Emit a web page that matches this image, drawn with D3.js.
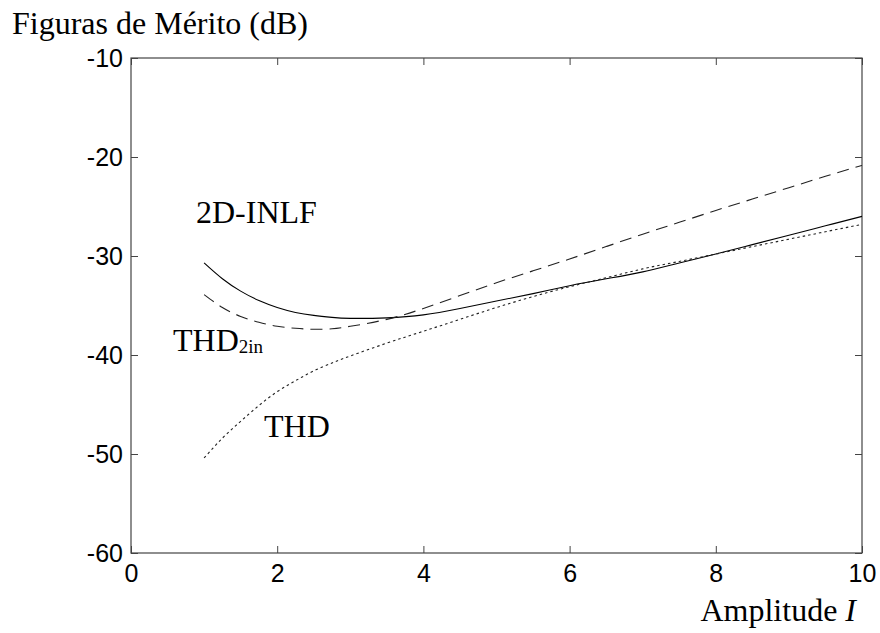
<!DOCTYPE html>
<html><head><meta charset="utf-8">
<script src="https://cdn.jsdelivr.net/npm/d3@7"></script>
<style>
html,body{margin:0;padding:0;background:#fff;}
svg{display:block;}
</style></head>
<body>
<svg id="chart" width="880" height="633"></svg>
<script>
// ---- data ----
const xTicks = [0, 2, 4, 6, 8, 10];
const yTicks = [-60, -50, -40, -30, -20, -10];
const amp = [1, 1.25, 1.5, 1.75, 2, 2.25, 2.5, 2.75, 3, 3.5, 4, 4.5, 5, 5.5, 6, 6.5, 7, 7.5, 8, 8.5, 9, 9.5, 10];
const inlf = [-30.7, -32.3, -33.55, -34.5, -35.2, -35.7, -36.0, -36.2, -36.3, -36.25, -35.95, -35.3, -34.55, -33.8, -33.0, -32.3, -31.6, -30.7, -29.8, -28.85, -27.9, -26.95, -26.0];
const thd2in = [-33.9, -35.2, -36.1, -36.7, -37.1, -37.3, -37.4, -37.35, -37.1, -36.4, -35.3, -34.0, -32.7, -31.5, -30.3, -29.05, -27.8, -26.6, -25.4, -24.25, -23.1, -21.95, -20.85];
const thd = [-50.4, -48.4, -46.7, -45.1, -43.7, -42.6, -41.6, -40.8, -40.1, -38.8, -37.6, -36.4, -35.2, -34.1, -33.1, -32.2, -31.3, -30.55, -29.8, -29.05, -28.3, -27.55, -26.8];

const m = {left: 131, right: 862, top: 58, bottom: 553};
const svg = d3.select("#chart");

const x = d3.scaleLinear().domain([0, 10]).range([m.left, m.right]);
const y = d3.scaleLinear().domain([-60, -10]).range([m.bottom, m.top]);

const axisColor = "#444";
const tickFont = "'Liberation Sans', Arial, sans-serif";
const serif = "'Liberation Serif', 'Times New Roman', serif";
const fmt = d => String(d);

function styleAxis(g, showText) {
  g.select(".domain").remove();
  g.selectAll(".tick line").attr("stroke", axisColor).attr("stroke-width", 1);
  g.selectAll(".tick text").attr("fill", "#000").style("font-family", tickFont).style("font-size", "25px");
  if (!showText) g.selectAll(".tick text").remove();
}

svg.append("g").attr("transform", `translate(0,${m.bottom})`)
  .call(d3.axisBottom(x).tickValues(xTicks).tickSize(-7).tickPadding(11).tickFormat(fmt))
  .call(g => styleAxis(g, true));
svg.append("g").attr("transform", `translate(0,${m.top})`)
  .call(d3.axisTop(x).tickValues(xTicks).tickSize(-7))
  .call(g => styleAxis(g, false));
svg.append("g").attr("transform", `translate(${m.left},0)`)
  .call(d3.axisLeft(y).tickValues(yTicks).tickSize(-7).tickPadding(8).tickFormat(fmt))
  .call(g => styleAxis(g, true));
svg.append("g").attr("transform", `translate(${m.right},0)`)
  .call(d3.axisRight(y).tickValues(yTicks).tickSize(-7))
  .call(g => styleAxis(g, false));

// box
svg.append("rect").attr("x", m.left).attr("y", m.top)
  .attr("width", m.right - m.left).attr("height", m.bottom - m.top)
  .attr("fill", "none").attr("stroke", axisColor).attr("stroke-width", 1.2);

const line = d3.line().curve(d3.curveNatural).x(d => x(d[0])).y(d => y(d[1]));
const series = [
  {vals: inlf, dash: null, color: "#000"},
  {vals: thd2in, dash: "12,7", color: "#222"},
  {vals: thd, dash: "2.5,3", color: "#222"}
];
series.forEach(s => {
  svg.append("path").datum(amp.map((a, i) => [a, s.vals[i]]))
    .attr("d", line).attr("fill", "none").attr("stroke", s.color)
    .attr("stroke-width", 1.1)
    .attr("stroke-dasharray", s.dash);
});

// texts
const fs = "32px";
svg.append("text").attr("x", 12).attr("y", 34)
  .style("font-family", serif).style("font-size", fs).text("Figuras de Mérito (dB)");

svg.append("text").attr("x", 196).attr("y", 223)
  .style("font-family", serif).style("font-size", fs).text("2D-INLF");

const t2 = svg.append("text").attr("x", 173).attr("y", 351)
  .style("font-family", serif).style("font-size", fs);
t2.append("tspan").text("THD");
t2.append("tspan").attr("dy", 2).style("font-size", "19px").text("2in");

svg.append("text").attr("x", 264).attr("y", 437)
  .style("font-family", serif).style("font-size", fs).text("THD");

const ax = svg.append("text").attr("x", 856).attr("y", 621).attr("text-anchor", "end")
  .style("font-family", serif).style("font-size", fs);
ax.append("tspan").text("Amplitude ");
ax.append("tspan").style("font-style", "italic").text("I");
</script>
</body></html>
